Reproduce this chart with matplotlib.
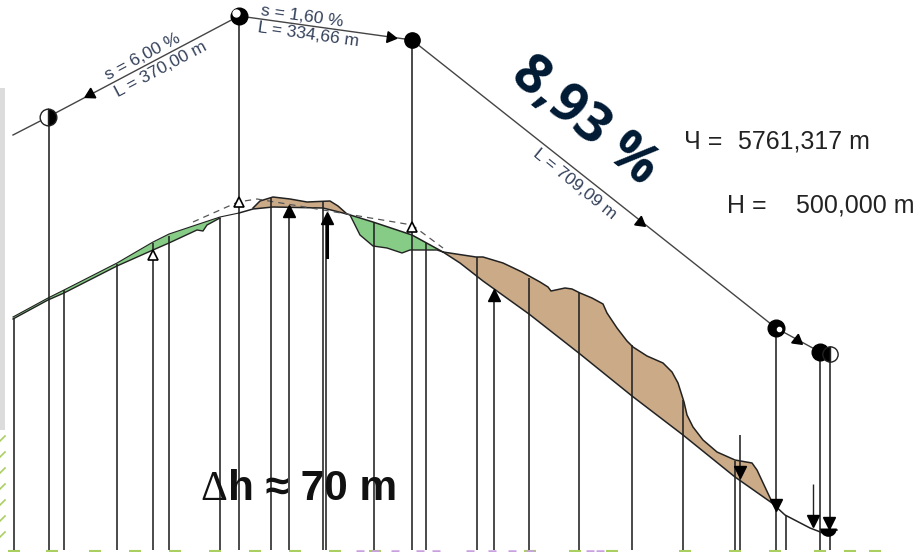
import matplotlib
matplotlib.use("Agg")
import matplotlib.pyplot as plt

plt.rcParams['font.family'] = ['Liberation Sans', 'DejaVu Sans']

# everything, in picture pixels (y grows downward)
tangent_x = [13, 48, 239, 412, 776, 820, 830]
tangent_y = [135, 117, 16, 40, 328, 352, 354]

road_x = [13, 48, 64, 117, 153, 169, 220, 239, 253, 273, 323, 347, 373, 412, 443, 460, 483,
          529, 580, 632, 683, 735, 772, 785, 810, 823, 837]
road_y = [317, 298, 290, 263, 242, 234, 217, 213, 209, 207, 208, 214, 222, 235, 252, 263, 281,
          314, 354, 396, 435, 477, 503, 515, 528, 533, 530]

cut1_top_x = [253, 260, 273, 290, 307, 330, 338, 347]
cut1_top_y = [208, 201, 197, 199, 202, 201, 206, 214]
cut1_low_x = [347, 323, 273, 253]
cut1_low_y = [214, 208, 207, 209]

cut2_top_x = [443, 476, 483, 503, 522, 540, 548, 551, 565, 572, 580, 592, 603, 607, 617, 627,
              633, 647, 663, 672, 678, 684, 687, 693, 703, 717, 735, 752, 757, 772]
cut2_top_y = [252, 257, 257, 263, 272, 282, 287, 291, 288, 289, 293, 298, 304, 313, 328, 341,
              347, 356, 363, 372, 383, 402, 415, 427, 440, 452, 460, 463, 470, 502]
cut2_low_x = [772, 735, 683, 632, 580, 529, 483, 460, 443]
cut2_low_y = [503, 477, 435, 396, 354, 314, 281, 263, 252]

fill1_low_x = [13, 48, 64, 117, 153, 169, 197, 203, 207, 220]
fill1_low_y = [319, 300, 293, 266, 250, 243, 230, 231, 225, 218]
fill1_top_x = [220, 169, 153, 117, 64, 48, 13]
fill1_top_y = [217, 234, 242, 263, 290, 298, 317]

fill2_low_x = [350, 360, 373, 387, 402, 410, 437, 443]
fill2_low_y = [215, 235, 246, 248, 253, 250, 250, 252]
fill2_top_x = [443, 412, 373, 347]
fill2_top_y = [252, 235, 222, 214]

dash_x = [193, 238, 257, 347, 412, 443]
dash_y = [222, 202, 199, 214, 225, 248]

vert_x = [13.7, 48.7, 64, 117, 153, 169, 220, 238.7, 270.7, 289, 322.7, 325.7, 373.7, 411.7,
          425.7, 476.7, 494, 529, 579.3, 632, 682.7, 735, 739.7, 776, 785.7, 820, 830]
vert_top = [318, 117, 290, 264, 243, 236, 218, 16, 198, 212, 202, 222, 222, 41,
            243, 257, 295, 278, 293, 345, 400, 461, 435, 328, 515, 353, 354]
vert_bottom = 550

# tick on the small arrow near the end
short_x = [812.7]
short_top = [484]
short_bottom = [526]

up_open_x = [153, 238.7, 411.7]
up_open_y = [255, 202, 227]
up_solid_x = [289, 327, 494]
up_solid_y = [211, 218, 295]
down_x = [740, 776, 812.7, 829]
down_y = [472, 505, 521, 523]

head_x = [90, 390, 640, 797]
head_y = [94, 37, 222, 340]
head_rot = [118, -98, -128, -128]

band_left_y = [441, 457, 473, 489, 505, 521, 537]
strip_green_x = [14, 52, 95, 135, 175, 215, 255, 295, 335, 375, 530, 575, 612, 685, 735, 775, 820, 850, 875]
strip_pink_x = [360, 375, 395, 420, 436, 470, 492, 512, 530, 590, 600]

fig = plt.figure(figsize=(9.21, 5.52), dpi=100)
ax = fig.add_axes([0, 0, 1, 1])
ax.set_xlim(0, 921)
ax.set_ylim(552, 0)
ax.axis('off')

ax.fill_between([0, 5], 88, 430, color='#dcdcdc', lw=0)
for y in band_left_y:
    ax.plot([0, 5], [y, y - 5], color='#a8cf60', lw=1.2)
ax.plot(strip_green_x, [551] * len(strip_green_x), ls='none', marker='_', ms=9, mew=1.5, color='#a8cf60')
ax.plot(strip_pink_x, [551] * len(strip_pink_x), ls='none', marker='_', ms=6, mew=1.8, color='#c9a0e0')

ax.fill(cut1_top_x + cut1_low_x, cut1_top_y + cut1_low_y, color='#cbab87', lw=0)
ax.fill(cut2_top_x + cut2_low_x, cut2_top_y + cut2_low_y, color='#cbab87', lw=0)
ax.fill(fill1_low_x + fill1_top_x, fill1_low_y + fill1_top_y, color='#86cc86', lw=0)
ax.fill(fill2_low_x + fill2_top_x, fill2_low_y + fill2_top_y, color='#86cc86', lw=0)

ax.plot(cut1_top_x, cut1_top_y, color='#222222', lw=1.1)
ax.plot(cut2_top_x, cut2_top_y, color='#222222', lw=1.1)
ax.plot(fill1_low_x, fill1_low_y, color='#222222', lw=1.0)
ax.plot(fill2_low_x, fill2_low_y, color='#222222', lw=1.0)
ax.plot(road_x[:8], road_y[:8], color='#222222', lw=0.8)
ax.plot(road_x[7:], road_y[7:], color='#222222', lw=1.1)
ax.plot(dash_x, dash_y, color='#555555', lw=0.9, dashes=(5, 4))

ax.vlines(vert_x, vert_top, vert_bottom, color='#222222', lw=1.15)
ax.vlines(short_x, short_top, short_bottom, color='#222222', lw=1.0)
ax.plot([327, 327], [222, 257], color='black', lw=2.2)

ax.plot(tangent_x, tangent_y, color='#444444', lw=1.0)

# grade break circles, part black part white
ax.plot(tangent_x[1:2], tangent_y[1:2], 'o', ms=12, fillstyle='right', mfc='black', mfcalt='white', mec='#222222', mew=1)
ax.plot(tangent_x[2:3], tangent_y[2:3], 'o', ms=12, color='black')
ax.plot([236], [13], 'o', ms=5, color='white')
ax.plot(tangent_x[3:4], tangent_y[3:4], 'o', ms=11, color='black')
ax.plot(tangent_x[4:5], tangent_y[4:5], 'o', ms=12, color='black')
ax.plot([779], [329], 'o', ms=3, color='white')
ax.plot(tangent_x[5:6], tangent_y[5:6], 'o', ms=12, color='black')
ax.plot(tangent_x[6:7], tangent_y[6:7], 'o', ms=11, fillstyle='left', mfc='black', mfcalt='white', mec='#222222', mew=1)

for x, y, r in zip(head_x, head_y, head_rot):
    ax.plot(x, y, marker=(3, 0, r), ms=9, color='black')

ax.plot(up_open_x, up_open_y, '^', ms=7, mfc='white', mec='black', mew=1.2)
ax.plot(up_solid_x, up_solid_y, '^', ms=9, color='black')
ax.plot(down_x, down_y, 'v', ms=8, color='black')
# half disc at the end of the road
ax.plot([828], [528], 'o', ms=12, fillstyle='bottom', mfc='black', mfcalt='none', mec='none')

txt = '#33405a'
ax.text(143, 57, 's = 6,00 %', fontsize=12.6, rotation=28, ha='center', va='center', rotation_mode='anchor', color=txt)
ax.text(161, 69, 'L = 370,00 m', fontsize=12.6, rotation=28, ha='center', va='center', rotation_mode='anchor', color=txt)
ax.text(302, 16, 's = 1,60 %', fontsize=12.6, rotation=-8, ha='center', va='center', rotation_mode='anchor', color=txt)
ax.text(308, 35, 'L = 334,66 m', fontsize=12.6, rotation=-8, ha='center', va='center', rotation_mode='anchor', color=txt)
ax.text(575, 184, 'L = 709,09 m', fontsize=12.6, rotation=-39, ha='center', va='center', rotation_mode='anchor', color=txt)

ax.text(585, 122, '8,93 %', fontsize=39, fontweight='bold', family='Open Sans', rotation=-39,
        ha='center', va='center', rotation_mode='anchor', color='#011a33')

ax.text(684, 149, 'Ч =', fontsize=18, color='#222222')
ax.text(738, 149, '5761,317 m', fontsize=18, color='#222222')
ax.text(727, 213, 'H =', fontsize=18, color='#222222')
ax.text(796, 213, '500,000 m', fontsize=18, color='#222222')

ax.text(200, 500, 'Δ', fontsize=30, family='Liberation Serif', color='#111111')
ax.text(228, 500, 'h ≈ 70 m', fontsize=30.5, fontweight='bold', color='#111111')

fig.savefig('out.png', dpi=100)
